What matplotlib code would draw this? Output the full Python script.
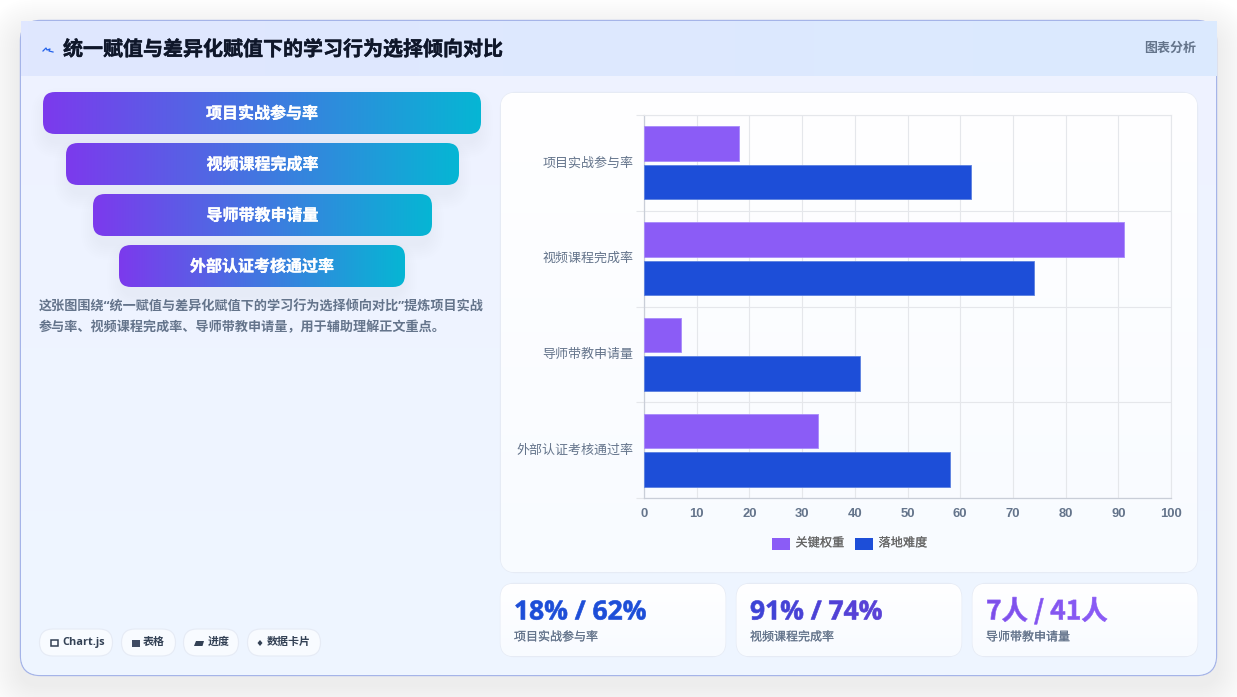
import numpy as np
import matplotlib
matplotlib.use("Agg")
import matplotlib.pyplot as plt
import matplotlib.patheffects as pe
from matplotlib.colors import LinearSegmentedColormap
from matplotlib.font_manager import FontProperties
from matplotlib.patches import FancyBboxPatch, Rectangle, Polygon, PathPatch
from matplotlib.textpath import TextPath
from matplotlib.transforms import Affine2D

plt.rcParams['font.family'] = ['Noto Sans CJK SC', 'DejaVu Sans']

# data
categories = ["项目实战参与率", "视频课程完成率", "导师带教申请量", "外部认证考核通过率"]
key_weight = [18, 91, 7, 33]
landing_difficulty = [62, 74, 41, 58]
series_names = ["关键权重", "落地难度"]
x_ticks = [0, 10, 20, 30, 40, 50, 60, 70, 80, 90, 100]

title = "统一赋值与差异化赋值下的学习行为选择倾向对比"
badge = "图表分析"
para_lines = ["这张图围绕“统一赋值与差异化赋值下的学习行为选择倾向对比”提炼项目实战",
              "参与率、视频课程完成率、导师带教申请量，用于辅助理解正文重点。"]
pill_labels = ["Chart.js", "表格", "进度", "数据卡片"]
stat_values = ["18% / 62%", "91% / 74%", "7人 / 41人"]
stat_labels = ["项目实战参与率", "视频课程完成率", "导师带教申请量"]

PURPLE = "#8b5cf6"
BLUE = "#1d4ed8"
GRAY = "#64748b"
LATIN_CJK = ['Open Sans', 'Noto Sans CJK SC']
W, H = 1237, 697


def px(p):
    return p * 0.72


def thick(w, color):
    # a hairline stroke around the glyphs, for text a step heavier than the font
    return [pe.withStroke(linewidth=w, foreground=color)]


def rbox(ax, x0, y0, x1, y1, r, **kw):
    box = FancyBboxPatch((x0 + r, y0 + r), x1 - x0 - 2 * r, y1 - y0 - 2 * r,
                         boxstyle=f"round,pad={r},rounding_size={r}", **kw)
    ax.add_patch(box)
    return box


def shadow(ax, x0, y0, x1, y1, r, spread, dy, alpha, color="#1e3a8a", z=1):
    # soft shadow built from stacked translucent boxes
    for i in range(spread, 0, -2):
        rbox(ax, x0 - i, y0 - i + dy, x1 + i, y1 + i + dy, r + i,
             fc=color, ec="none", alpha=alpha, zorder=z)


def gradient(ax, x0, y0, x1, y1, colors, horizontal=True, clip=None, z=3):
    cmap = LinearSegmentedColormap.from_list("g", colors)
    g = np.linspace(0, 1, 256)
    g = g[None, :] if horizontal else g[:, None]
    im = ax.imshow(g, cmap=cmap, extent=(x0, x1, y1, y0), aspect="auto",
                   zorder=z, interpolation="bilinear")
    if clip is not None:
        im.set_clip_path(clip)
    return im


def grad_text(ax, x, y, s, size, colors, stroke=0.45, z=6):
    # text filled with a horizontal colour ramp
    fp = FontProperties(family='Noto Sans CJK SC', weight='bold')
    if all(ord(c) < 256 for c in s):
        fp = FontProperties(family='Open Sans', weight='bold')
    tp = TextPath((0, 0), s, size=size, prop=fp)
    bb = tp.get_extents()
    tr = Affine2D().scale(1, -1).translate(x, y) + ax.transData
    clip = PathPatch(tp, fc="none", ec="none", transform=tr)
    ax.add_patch(clip)
    gradient(ax, x, y - size * 1.2, x + bb.x1, y + size * 0.3, colors, clip=clip, z=z)
    ax.add_patch(PathPatch(tp, fc="none", ec=colors[len(colors) // 2], lw=stroke,
                           transform=tr, zorder=z + 0.1))


fig = plt.figure(figsize=(W / 100, H / 100), dpi=100, facecolor="white")
bg = fig.add_axes([0, 0, 1, 1])
bg.set_xlim(0, W)
bg.set_ylim(H, 0)
bg.axis("off")

# outer card
shadow(bg, 20, 24, 1217, 675, 20, 36, 10, 0.0038, color="#0f172a")
rbox(bg, 20.5, 20.5, 1216.5, 675.5, 20, fc="#eef3ff", ec="#a5b4e8", lw=1, zorder=2)
gradient(bg, 21, 21, 1216, 675, ["#eef2ff", "#eff6ff"], horizontal=False,
         clip=rbox(bg, 21, 21, 1216, 675, 20, fc="none", ec="none", zorder=2), z=2.1)

# header strip
gradient(bg, 21, 21, 1217, 76, ["#e0e7ff", "#dbeafe"], z=2.2)
bg.text(63, 49, title, fontsize=px(20), fontweight="bold", color="#0f172a",
        va="center", ha="left", zorder=5, path_effects=thick(0.3, "#0f172a"))
bg.text(1196, 48, badge, fontsize=px(13), fontweight="bold", color=GRAY,
        va="center", ha="right", zorder=5)
bg.plot([43, 46, 47, 50, 49, 53], [51, 48, 50, 49, 51, 52], color="#2563eb", lw=0.9, zorder=5)

# funnel rows
funnel_boxes = [(43, 92, 481, 134), (66, 143, 459, 185), (93, 194, 432, 236), (119, 245, 405, 287)]
for (x0, y0, x1, y1), label in zip(funnel_boxes, categories):
    shadow(bg, x0 + 4, y0 + 4, x1 - 4, y1, 12, 16, 8, 0.0042, color="#1e3a8a", z=2.5)
    clip = rbox(bg, x0, y0, x1, y1, 12, fc="none", ec="none", zorder=3)
    gradient(bg, x0, y0, x1, y1, ["#7c3aed", "#06b6d4"], clip=clip, z=3)
    bg.text((x0 + x1) / 2, (y0 + y1) / 2 + 0.5, label, color="white", fontsize=px(16),
            fontweight="bold", ha="center", va="center", zorder=5,
            path_effects=thick(0.2, "white"))

for i, line in enumerate(para_lines):
    bg.text(39, 307 + i * 20.5, line, fontsize=px(13.1), fontweight="bold", color=GRAY,
            va="center", ha="left", zorder=5, family=LATIN_CJK)

# tool pills
pill_boxes = [(39, 113), (121, 176), (183, 239), (247, 321)]
pill_text_x = [62, 143, 208, 267]
for (x0, x1), label, tx in zip(pill_boxes, pill_labels, pill_text_x):
    rbox(bg, x0 + 0.5, 629, x1 - 0.5, 656, 13.5, fc="#f8fbff", ec="#e6ebf5", lw=0.8, zorder=3)
    bg.text(tx, 642.5, label, fontsize=px(11), fontweight="bold", color="#334155",
            va="center", ha="left", zorder=5, family=LATIN_CJK)
bg.add_patch(Rectangle((50.5, 640), 7, 5.5, fc="none", ec="#334155", lw=1.1, zorder=5))
bg.add_patch(Rectangle((132, 640), 7.5, 6.5, fc="#3f4b63", ec="none", zorder=5))
bg.add_patch(Polygon([(196, 641), (204, 641), (202.5, 646), (194, 646)], fc="#334155", ec="none", zorder=5))
bg.add_patch(Polygon([(260, 640), (262.5, 643), (260, 646), (257.5, 643)], fc="#334155", ec="none", zorder=5))

# chart panel
clip = rbox(bg, 500.5, 92.5, 1197.5, 572.5, 16, fc="white", ec="#e6ebf5", lw=1, zorder=3)
gradient(bg, 501, 93, 1197, 572, ["#ffffff", "#f8fbff"], horizontal=False, clip=clip, z=3.1)

# stat cards
stat_x = [(500, 726), (736, 962), (972, 1198)]
stat_colors = [["#1d4ed8", "#1d4ed8"], ["#3a46d6", "#4c42d6", "#6040d8"], ["#7c4fe8", "#8b5cf6"]]
for (x0, x1), val, lab, cols in zip(stat_x, stat_values, stat_labels, stat_colors):
    clip = rbox(bg, x0 + 0.5, 583.5, x1 - 0.5, 656.5, 14, fc="white", ec="#e6ebf5", lw=1, zorder=3)
    gradient(bg, x0, 584, x1, 656, ["#ffffff", "#f8fbff"], horizontal=False, clip=clip, z=3.1)
    grad_text(bg, x0 + 14, 619.5, val, 26.4, cols)
    bg.text(x0 + 14, 637, lab, fontsize=px(12), fontweight="medium", color=GRAY,
            va="center", ha="left", zorder=6, path_effects=thick(0.1, GRAY))

# bar chart, plotted in its own axes over the panel
ax = fig.add_axes([644 / W, 1 - 498 / H, (1171 - 644) / W, (498 - 115) / H], zorder=5)
ax.patch.set_alpha(0)
y = np.arange(len(categories))
bar_h = 0.36
offset = 0.2
ax.barh(y - offset, key_weight, height=bar_h, color=PURPLE, edgecolor="#a78bfa",
        linewidth=0.6, joinstyle="round", zorder=3)
ax.barh(y + offset, landing_difficulty, height=bar_h, color=BLUE, edgecolor="#5b80e0",
        linewidth=0.6, zorder=3)
ax.set_xlim(0, 100)
ax.set_ylim(len(categories) - 0.5, -0.5)
ax.set_xticks(x_ticks)
ax.set_yticks(np.arange(-0.5, len(categories), 1), minor=False)
ax.set_yticklabels([])
ax.grid(True, color="#e5e7eb", lw=0.8, zorder=0)
ax.set_axisbelow(True)
ax.tick_params(axis="x", length=0, pad=7, labelsize=px(13), labelcolor=GRAY)
ax.tick_params(axis="y", length=5.8, color="#e5e7eb", width=0.8)
for t in ax.get_xticklabels():
    t.set_family(['Liberation Sans'])
    t.set_fontweight("bold")
for side in ("top", "right"):
    ax.spines[side].set_color("#e5e7eb")
    ax.spines[side].set_linewidth(0.8)
for side in ("left", "bottom"):
    ax.spines[side].set_color("#c9ced8")
    ax.spines[side].set_linewidth(0.9)
for yi, label in zip(y, categories):
    ax.annotate(label, (0, yi), xytext=(-7.5, 0), textcoords="offset points", ha="right",
                va="center", fontsize=px(13), color=GRAY, annotation_clip=False)

# legend
for x0, color, name, tx in zip([772, 855], [PURPLE, BLUE], series_names, [795.5, 878.5]):
    bg.add_patch(Rectangle((x0, 538), 18, 12, fc=color, ec="none", zorder=6))
    bg.text(tx, 543, name, fontsize=px(12.2), fontweight="medium", color="#666666",
            va="center", ha="left", zorder=6, path_effects=thick(0.1, "#666666"))

fig.savefig("out.png", dpi=100, facecolor="white")
